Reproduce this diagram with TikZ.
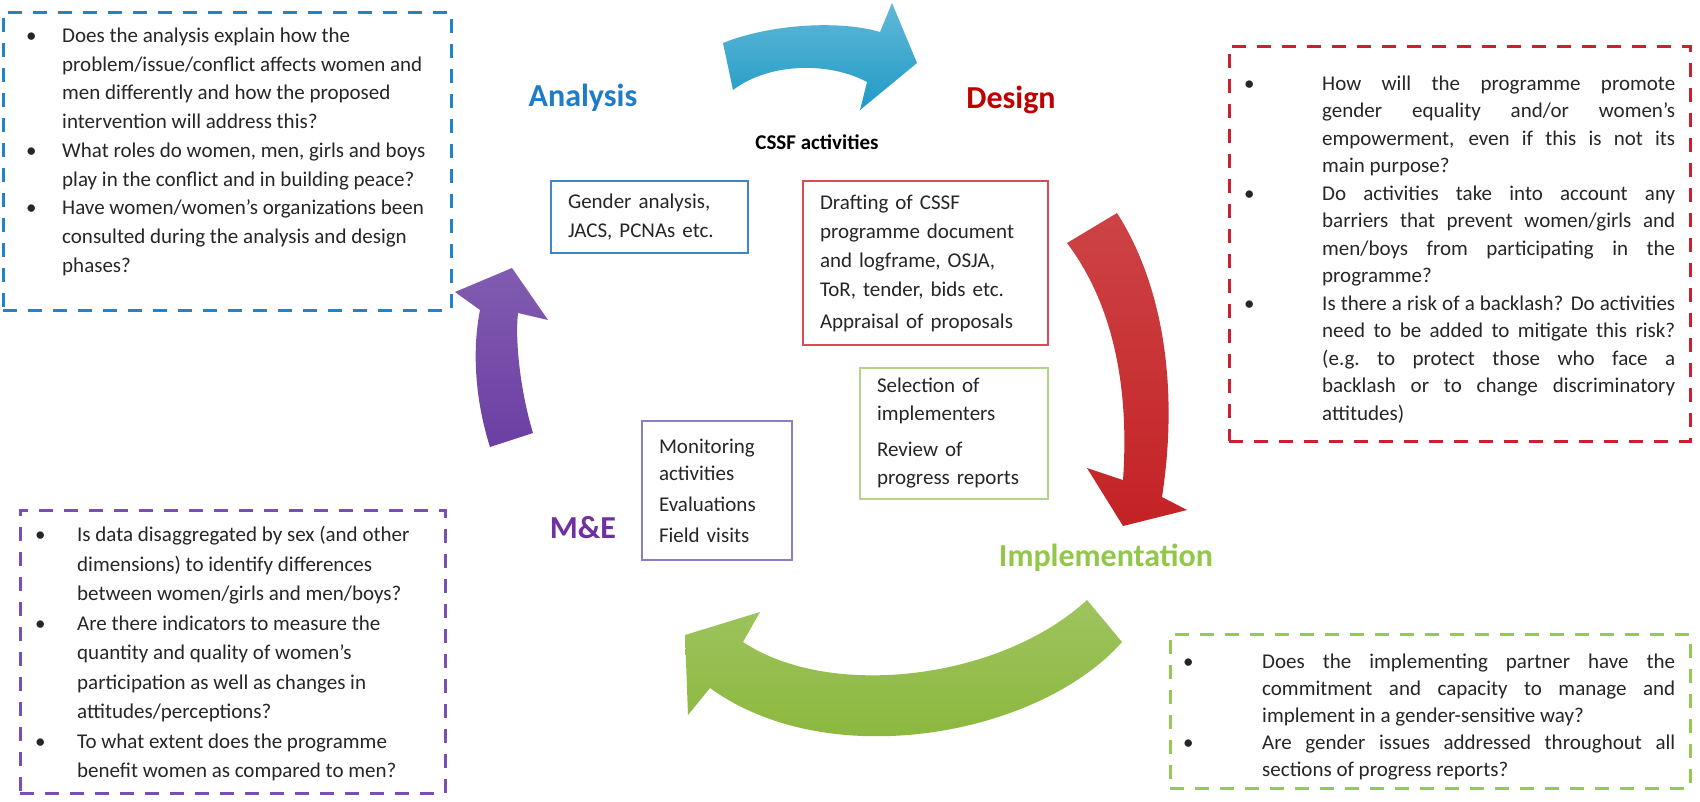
\documentclass[tikz,border=0pt]{standalone}
\usepackage{fontspec}
\setmainfont{Carlito}

\definecolor{anablue}{HTML}{1F7CC6}
\definecolor{desred}{HTML}{C00000}
\definecolor{mepurple}{HTML}{7030A0}
\definecolor{impgreen}{HTML}{92C84A}
\definecolor{qblue}{HTML}{2383C8}
\definecolor{qred}{HTML}{CC1F2F}
\definecolor{qpurple}{HTML}{7A4FB5}
\definecolor{qgreen}{HTML}{94C952}
\definecolor{bxblue}{HTML}{3F87C4}
\definecolor{bxred}{HTML}{DC4A55}
\definecolor{bxgreen}{HTML}{B4D38C}
\definecolor{bxpurple}{HTML}{8E7DC2}
\definecolor{arrblue}{HTML}{1E9AC6}
\definecolor{arrred}{HTML}{C42225}
\definecolor{arrgreen}{HTML}{86B536}
\definecolor{arrpurple}{HTML}{6B3FA3}
\definecolor{txt}{HTML}{262626}

\newlength\qw
\newcommand\jl[1]{\hbox to\qw{#1}}

\begin{document}
\begin{tikzpicture}[x=1pt, y=-1pt,
  qbox/.style={draw, line width=3pt, dash pattern=on 14pt off 11pt, inner sep=0pt},
  qtext/.style={anchor=north west, inner sep=0pt, text=txt},
  actbox/.style={draw, line width=1.4pt, inner xsep=17pt, inner ysep=0pt, align=left, text=txt},
  phaselabel/.style={font=\fontsize{32}{38}\selectfont\bfseries}]

\useasboundingbox[fill=white] (0,0) rectangle (1700,801);

\shade[top color=arrblue!70!white, bottom color=arrblue] (723,43) .. controls (770,24) and (840,20) .. (880,32) -- (892,3) -- (917,63) -- (860,110) -- (867,82) .. controls (830,62) and (770,62) .. (733,90) -- cycle;
\shade[top color=arrred!85!white, bottom color=arrred] (1067,243) -- (1117,213) .. controls (1160,280) and (1180,380) .. (1162,497) -- (1187,510) -- (1123,526) -- (1087,468) -- (1123,480) .. controls (1130,380) and (1110,300) .. (1067,243) -- cycle;
\shade[top color=arrgreen!80!white, bottom color=arrgreen] (1087,600) -- (1122,642) .. controls (1040,735) and (830,775) .. (710,688) -- (688,715) -- (685,635) -- (760,612) -- (743,642) .. controls (830,700) and (1000,680) .. (1087,600) -- cycle;
\shade[top color=arrpurple!85!white, bottom color=arrpurple] (490,447) -- (533,433) .. controls (520,390) and (515,340) .. (518,313) -- (548,320) -- (512,268) -- (455,292) -- (480,310) .. controls (472,350) and (475,400) .. (490,447) -- cycle;

\node (ana) at (583, 98) [phaselabel, text=anablue] {Analysis};
\node (des) at (1011, 100) [phaselabel, text=desred] {Design};
\node (me) at (583, 528) [phaselabel, text=mepurple] {M\&E};
\node (imp) at (1106, 558) [phaselabel, text=impgreen] {Implementation};
\node (cssf) at (817, 142) [font=\fontsize{21}{25}\selectfont\bfseries] {CSSF activities};

\node (gen) at (649.5, 217) [actbox, draw=bxblue, text width=163pt, minimum width=197pt, minimum height=72pt, font=\fontsize{21}{29}\selectfont] {Gender analysis,\newline JACS, PCNAs etc.};
\node (draft) at (925.5, 263) [actbox, draw=bxred, text width=211pt, minimum width=245pt, minimum height=164pt, font=\fontsize{21}{29}\selectfont, execute at begin node={\setlength\parskip{3pt}}] {Drafting of CSSF\newline programme document\newline and logframe, OSJA,\newline ToR, tender, bids etc.\par Appraisal of proposals};
\node (sel) at (954, 433.5) [actbox, draw=bxgreen, text width=154pt, minimum width=188pt, minimum height=131pt, font=\fontsize{21}{28}\selectfont, execute at begin node={\setlength\parskip{8pt}}] {Selection of\newline implementers\par Review of\newline progress reports};
\node (mon) at (717, 490.5) [actbox, draw=bxpurple, text width=116pt, minimum width=150pt, minimum height=139pt, font=\fontsize{21}{27}\selectfont, execute at begin node={\setlength\parskip{4pt}}] {Monitoring\newline activities\par Evaluations\par Field visits};

\node (qana) at (227, 161) [qbox, draw=qblue, minimum width=448pt, minimum height=298pt] {};
\node (qdes) at (1459.5, 243.5) [qbox, draw=qred, minimum width=461pt, minimum height=395pt] {};
\node (qme) at (232.5, 651.5) [qbox, draw=qpurple, minimum width=425pt, minimum height=283pt] {};
\node (qimp) at (1430, 711) [qbox, draw=qgreen, minimum width=520pt, minimum height=154pt] {};

\node (tana) at (26, 22) [qtext, font=\fontsize{21}{28.75}\selectfont] {%
\begin{tabular}{@{}p{36pt}@{}l@{}}
\textbullet & Does the analysis explain how the\\
 & problem/issue/conflict affects women and\\
 & men differently and how the proposed\\
 & intervention will address this?\\
\textbullet & What roles do women, men, girls and boys\\
 & play in the conflict and in building peace?\\
\textbullet & Have women/women’s organizations been\\
 & consulted during the analysis and design\\
 & phases?
\end{tabular}};

\node (tdes) at (1244, 71) [qtext, font=\fontsize{21}{27.5}\selectfont, execute at begin node={\setlength\qw{353pt}}] {%
\begin{tabular}{@{}p{78pt}@{}l@{}}
\textbullet & \jl{How will the programme promote}\\
 & \jl{gender equality and/or women’s}\\
 & \jl{empowerment, even if this is not its}\\
 & main purpose?\\
\textbullet & \jl{Do activities take into account any}\\
 & \jl{barriers that prevent women/girls and}\\
 & \jl{men/boys from participating in the}\\
 & programme?\\
\textbullet & \jl{Is there a risk of a backlash? Do activities}\\
 & \jl{need to be added to mitigate this risk?}\\
 & \jl{(e.g.\ to protect those who face a}\\
 & \jl{backlash or to change discriminatory}\\
 & attitudes)
\end{tabular}};

\node (tme) at (35, 521) [qtext, font=\fontsize{21}{29.5}\selectfont] {%
\begin{tabular}{@{}p{42pt}@{}l@{}}
\textbullet & Is data disaggregated by sex (and other\\
 & dimensions) to identify differences\\
 & between women/girls and men/boys?\\
\textbullet & Are there indicators to measure the\\
 & quantity and quality of women’s\\
 & participation as well as changes in\\
 & attitudes/perceptions?\\
\textbullet & To what extent does the programme\\
 & benefit women as compared to men?
\end{tabular}};

\node (timp) at (1183, 649) [qtext, font=\fontsize{21}{27}\selectfont, execute at begin node={\setlength\qw{413pt}}] {%
\begin{tabular}{@{}p{79pt}@{}l@{}}
\textbullet & \jl{Does the implementing partner have the}\\
 & \jl{commitment and capacity to manage and}\\
 & implement in a gender-sensitive way?\\
\textbullet & \jl{Are gender issues addressed throughout all}\\
 & sections of progress reports?
\end{tabular}};
\end{tikzpicture}
\end{document}
